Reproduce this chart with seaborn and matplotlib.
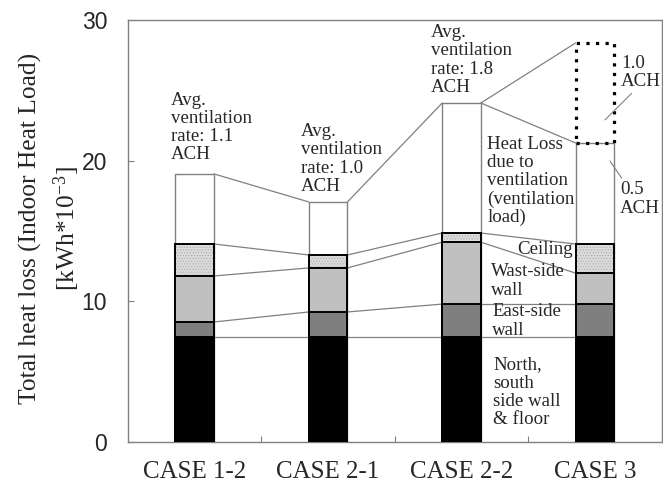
import numpy as np
import pandas as pd
import matplotlib
matplotlib.use("Agg")
import matplotlib.pyplot as plt
import seaborn as sns

# ---------------- data ----------------
cases = ["CASE 1-2", "CASE 2-1", "CASE 2-2", "CASE 3"]
north_south_floor = [7.46, 7.46, 7.46, 7.46]
east_wall = [1.07, 1.78, 2.34, 2.34]
west_wall = [3.27, 3.13, 4.40, 2.20]
ceiling = [2.27, 0.92, 0.65, 2.07]
ventilation = [4.98, 3.77, 9.24, 7.18]
extra_1ach_case3 = 7.11          # additional load of CASE 3 at 1.0 ACH (dashed)
y_ticks = [0, 10, 20, 30]
avg_rates = ["1.1", "1.0", "1.8"]

# ---------------- style ----------------
sns.set_style("ticks")
plt.rcParams["font.family"] = ["Liberation Serif", "DejaVu Serif"]
plt.rcParams["mathtext.fontset"] = "custom"
plt.rcParams["mathtext.rm"] = "Liberation Serif"
plt.rcParams["mathtext.it"] = "Liberation Serif:italic"
plt.rcParams["hatch.linewidth"] = 0.5

df = pd.DataFrame({
    "case": cases,
    "nsf": north_south_floor,
    "east": east_wall,
    "west": west_wall,
    "ceil": ceiling,
    "vent": ventilation,
})
df["c1"] = df["nsf"]
df["c2"] = df["c1"] + df["east"]
df["c3"] = df["c2"] + df["west"]
df["c4"] = df["c3"] + df["ceil"]
df["c5"] = df["c4"] + df["vent"]

fig = plt.figure(figsize=(6.63, 4.84), dpi=100)
ax = fig.add_axes([0.193, 0.0868, 0.805, 0.8722])

W = 0.29
black_lw = 1.4
gray = "#808080"

# ventilation (top) layer
sns.barplot(data=df, x="case", y="c5", color="white", edgecolor=gray,
            linewidth=1.0, width=W, saturation=1, ax=ax, zorder=3)
# ceiling (stippled)
sns.barplot(data=df, x="case", y="c4", color="#dcdcdc", edgecolor="#a8a8a8",
            linewidth=0, hatch="......", width=W, saturation=1, ax=ax, zorder=3)
sns.barplot(data=df, x="case", y="c4", fill=False, edgecolor="black",
            linewidth=black_lw, width=W, ax=ax, zorder=3)
# west side wall
sns.barplot(data=df, x="case", y="c3", color="#c0c0c0", edgecolor="black",
            linewidth=black_lw, width=W, saturation=1, ax=ax, zorder=3)
# east side wall
sns.barplot(data=df, x="case", y="c2", color="#7f7f7f", edgecolor="black",
            linewidth=black_lw, width=W, saturation=1, ax=ax, zorder=3)
# north, south side wall & floor
sns.barplot(data=df, x="case", y="c1", color="black", edgecolor="black",
            linewidth=black_lw, width=W, saturation=1, ax=ax, zorder=3)

# dashed box: CASE 3 at 1.0 ACH
i3 = cases.index("CASE 3")
ax.bar(i3, extra_1ach_case3, bottom=df["c5"].iloc[i3], width=W, fill=False,
       edgecolor="black", linewidth=2.3, linestyle=(0, (1, 2)), zorder=4)

# connecting lines between bars
for col in ["c1", "c2", "c3", "c4", "c5"]:
    vals = df[col].values
    for i in range(len(cases) - 1):
        ax.plot([i + W / 2, i + 1 - W / 2], [vals[i], vals[i + 1]],
                color=gray, lw=0.9, zorder=2)
i2 = cases.index("CASE 2-2")
ax.plot([i2 + W / 2, i3 - W / 2],
        [df["c5"].iloc[i2], df["c5"].iloc[i3] + extra_1ach_case3],
        color=gray, lw=0.9, zorder=2)

# ---------------- axes ----------------
ax.set_xlim(-0.5, 3.5)
ax.set_ylim(0, 30)
ax.set_yticks(y_ticks)
ax.set_yticklabels([str(t) for t in y_ticks], family="Liberation Sans", fontsize=16.5)
ax.set_xticks(range(len(cases)))
ax.set_xticklabels(cases, fontsize=18)
ax.set_xticks([0.5, 1.5, 2.5], minor=True)
ax.tick_params(axis="x", which="major", length=0, pad=14)
ax.tick_params(axis="x", which="minor", direction="in", length=4, color=gray, width=0.8)
ax.tick_params(axis="y", direction="in", length=4, color=gray, width=0.8, pad=15)
ax.set_xlabel("")
ax.set_ylabel("")
for s in ax.spines.values():
    s.set_color(gray)
    s.set_linewidth(1.0)
    s.set_visible(True)

fig.text(0.076, 0.527, "Total heat loss (Indoor Heat Load)\n[kWh*10$^{-3}$]",
         rotation=90, ha="center", va="center", fontsize=18.4,
         multialignment="center", linespacing=1.4)

# ---------------- annotations ----------------
fs = 13.6
ls = 1.1
ax.text(-0.179, 22.35, f"Avg.\nventilation\nrate: {avg_rates[0]}\nACH", fontsize=fs,
        ha="left", va="center", linespacing=ls, zorder=5)
ax.text(0.799, 20.11, f"Avg.\nventilation\nrate: {avg_rates[1]}\nACH", fontsize=fs,
        ha="left", va="center", linespacing=ls, zorder=5)
ax.text(1.769, 27.15, f"Avg.\nventilation\nrate: {avg_rates[2]}\nACH", fontsize=fs,
        ha="left", va="center", linespacing=ls, zorder=5)
ax.text(2.194, 18.55, "Heat Loss\ndue to\nventilation\n(ventilation\nload)", fontsize=fs,
        ha="left", va="center", linespacing=ls, zorder=5)
ax.text(2.836, 13.65, "Ceiling", fontsize=fs, ha="right", va="center", zorder=5)
ax.text(2.224, 11.44, "Wast-side\nwall", fontsize=fs, ha="left", va="center",
        linespacing=ls, zorder=5)
ax.text(2.231, 8.6, "East-side\nwall", fontsize=fs, ha="left", va="center",
        linespacing=ls, zorder=5)
ax.text(2.239, 3.52, "North,\nsouth\nside wall\n& floor", fontsize=fs, ha="left",
        va="center", linespacing=ls, zorder=5)

ax.annotate("1.0\nACH", xy=(3.075, 22.89), xytext=(3.194, 26.26), fontsize=fs,
            ha="left", va="center", linespacing=ls, zorder=5,
            arrowprops=dict(arrowstyle="-", color=gray, lw=0.8,
                            shrinkA=0, shrinkB=0, relpos=(0.35, 0.0)))
ax.annotate("0.5\nACH", xy=(3.112, 19.97), xytext=(3.187, 17.27), fontsize=fs,
            ha="left", va="center", linespacing=ls, zorder=5,
            arrowprops=dict(arrowstyle="-", color=gray, lw=0.8,
                            shrinkA=0, shrinkB=0, relpos=(0.1, 1.0)))

fig.savefig("out.png", dpi=100)
